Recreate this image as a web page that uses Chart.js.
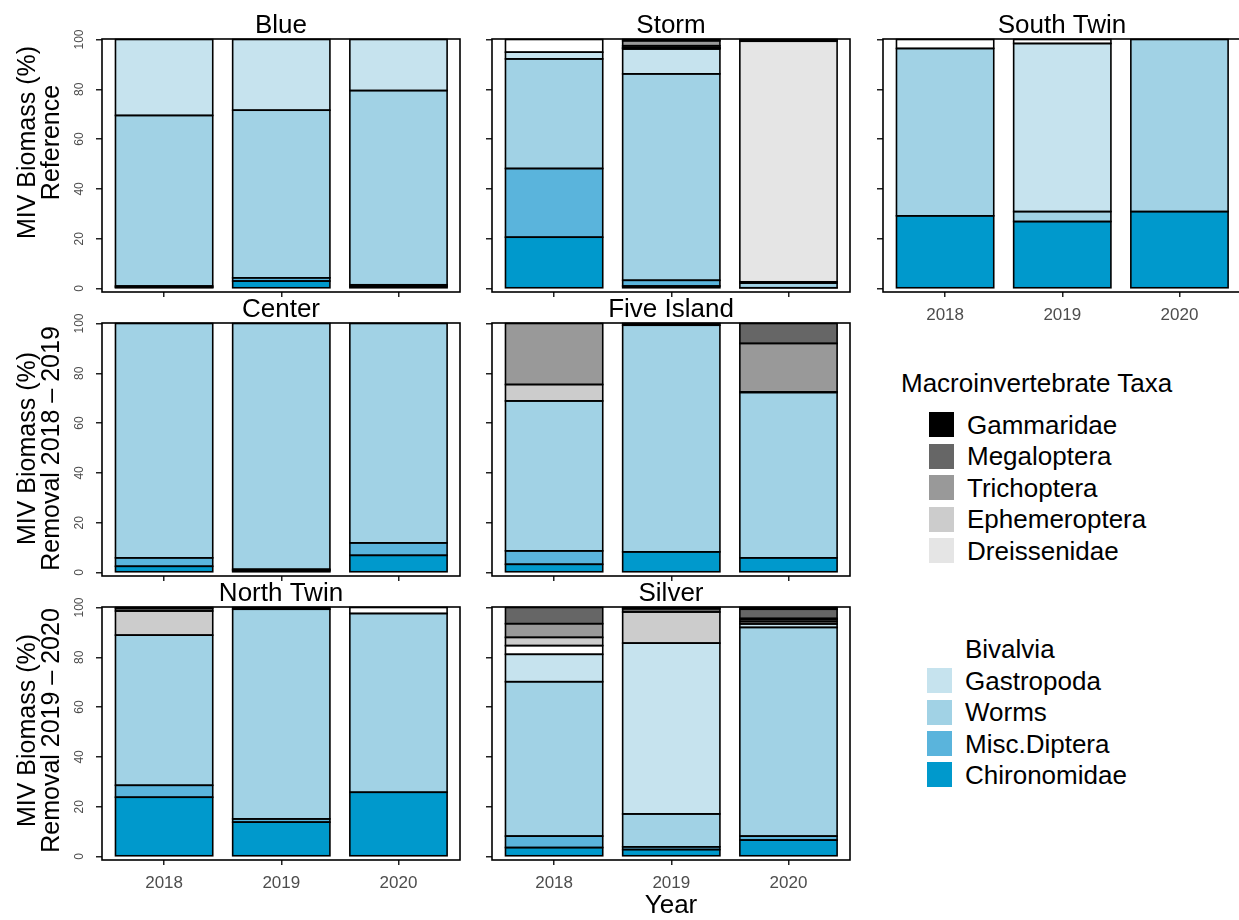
<!DOCTYPE html>
<html>
<head>
<meta charset="utf-8">
<script src="https://cdn.jsdelivr.net/npm/chart.js@4/dist/chart.umd.min.js"></script>
<style>
  html, body { margin: 0; padding: 0; background: #fff; width: 1239px; height: 920px; overflow: hidden; }
  canvas.panel { position: absolute; }
  .leg { position: absolute; font-family: "Liberation Sans", Arial, sans-serif; color: #000; white-space: nowrap; }
  .key { position: absolute; width: 25px; height: 25px; }
</style>
</head>
<body>
<div id="legend"></div>
<script>
// ---- categories and labels ----
const years = ['2018', '2019', '2020'];
const taxa = ['Gammaridae', 'Megaloptera', 'Trichoptera', 'Ephemeroptera', 'Dreissenidae',
              'Bivalvia', 'Gastropoda', 'Worms', 'Misc.Diptera', 'Chironomidae'];
const taxaColors = ['#000000', '#666666', '#999999', '#CCCCCC', '#E5E5E5',
                    '#FFFFFF', '#C6E3EE', '#A1D2E5', '#5AB4DC', '#0099CC'];
const yTicks = [0, 20, 40, 60, 80, 100];
const rowTitles = [
  ['MIV Biomass (%)', 'Reference'],
  ['MIV Biomass (%)', 'Removal 2018 \u2013 2019'],
  ['MIV Biomass (%)', 'Removal 2019 \u2013 2020']
];

// ---- biomass share (%) by taxon (order of `taxa`), each row = [2018, 2019, 2020] ----
const blue = [
  [0, 0, 0], [0, 0, 0], [0, 0, 0], [0, 0, 0], [0, 0, 0],
  [0, 0, 0], [30.5, 28.4, 20.5], [68.5, 67.3, 78.0], [0.5, 1.3, 0.6], [0.5, 3.0, 0.9]
];
const storm = [
  [0, 0.5, 0.4], [0, 0, 0.3], [0, 2.0, 0], [0, 0.7, 0], [0, 0.3, 96.6],
  [5.1, 0.3, 0], [2.7, 10.0, 0.5], [44.0, 82.9, 1.9], [27.6, 2.3, 0], [20.6, 1.0, 0.3]
];
const southTwin = [
  [0, 0, 0], [0, 0, 0], [0, 0, 0], [0, 0, 0], [0, 0, 0],
  [3.6, 1.6, 0], [0, 67.5, 0], [67.2, 4.0, 69.1], [0, 0, 0], [29.2, 26.9, 30.9]
];
const center = [
  [0, 0, 0], [0, 0, 0], [0, 0, 0], [0, 0, 0], [0, 0, 0],
  [0, 0, 0], [0, 0, 0], [94.1, 98.7, 88.1], [3.4, 0.5, 5.0], [2.5, 0.8, 6.9]
];
const fiveIsland = [
  [0, 0.7, 0], [0, 0, 8.0], [24.5, 0, 19.5], [6.6, 0, 0.2], [0, 0, 0],
  [0, 0, 0], [0, 0, 0], [60.2, 91.0, 66.4], [5.4, 0, 0], [3.3, 8.3, 5.9]
];
const northTwin = [
  [0, 0.7, 0], [0.4, 0, 0], [1.0, 0, 0], [9.7, 0, 0], [0, 0, 0],
  [0, 0, 2.4], [0, 0, 0], [60.3, 84.2, 71.8], [4.8, 1.3, 0], [23.8, 13.8, 25.8]
];
const silver = [
  [0, 0.5, 0.7], [6.5, 1.3, 3.7], [5.5, 0, 0.5], [3.3, 12.5, 0.8], [0, 0, 0],
  [3.5, 0, 0.9], [11.0, 68.6, 1.4], [62.0, 13.2, 83.8], [4.6, 1.1, 1.6], [3.6, 2.8, 6.6]
];

// facet grid: lake name, values, row, column
const lakes = [
  { name: 'Blue', values: blue, row: 0, col: 0 },
  { name: 'Storm', values: storm, row: 0, col: 1 },
  { name: 'South Twin', values: southTwin, row: 0, col: 2 },
  { name: 'Center', values: center, row: 1, col: 0 },
  { name: 'Five Island', values: fiveIsland, row: 1, col: 1 },
  { name: 'North Twin', values: northTwin, row: 2, col: 0 },
  { name: 'Silver', values: silver, row: 2, col: 1 }
];

// ---- layout ----
const FONT = '"Liberation Sans", Arial, sans-serif';
Chart.defaults.font.family = FONT;
const colLeft = [102, 492, 883];
const rowTop = [39, 323, 607];
const rowTitleShift = [-23, -1, -3];
const PANEL_W = 358, PANEL_H = 253, TOP_SPACE = 39, RIGHT_PAD = 2;

// outlines every stacked segment and the panel frame
const outlinePlugin = {
  id: 'outlines',
  afterDatasetsDraw(chart) {
    const ctx = chart.ctx;
    ctx.save();
    ctx.strokeStyle = '#000';
    ctx.lineWidth = 1.6;
    chart.data.datasets.forEach((ds, i) => {
      const meta = chart.getDatasetMeta(i);
      meta.data.forEach((bar, j) => {
        if (!ds.data[j].y) return;
        const p = bar.getProps(['x', 'y', 'base', 'width'], true);
        ctx.strokeRect(p.x - p.width / 2, Math.min(p.y, p.base), p.width, Math.abs(p.base - p.y));
      });
    });
    const a = chart.chartArea;
    ctx.strokeRect(a.left, a.top, a.right - a.left, a.bottom - a.top);
    ctx.restore();
  }
};

// vertical y tick labels and the two-line row title for the first column
const yLabelPlugin = {
  id: 'yLabels',
  afterDraw(chart, args, opts) {
    if (!opts.show) return;
    const ctx = chart.ctx, ys = chart.scales.y, a = chart.chartArea;
    ctx.save();
    ctx.textAlign = 'center';
    ctx.textBaseline = 'middle';
    ctx.fillStyle = '#4d4d4d';
    ctx.font = '12px ' + FONT;
    yTicks.forEach(v => {
      ctx.save();
      ctx.translate(a.left - 22, ys.getPixelForValue(v));
      ctx.rotate(-Math.PI / 2);
      ctx.fillText(String(v), 0, 0);
      ctx.restore();
    });
    ctx.fillStyle = '#000';
    ctx.font = '25px ' + FONT;
    const cy = (a.top + a.bottom) / 2 + opts.shift;
    opts.lines.forEach((line, k) => {
      ctx.save();
      ctx.translate(28 + k * 24.5, cy);
      ctx.rotate(-Math.PI / 2);
      ctx.fillText(line, 0, 0);
      ctx.restore();
    });
    ctx.restore();
  }
};

lakes.forEach(lake => {
  const firstCol = lake.col === 0;
  const showX = (lake.row === 2) || (lake.col === 2);
  const isYear = lake.name === 'Silver';
  const leftSpace = firstCol ? colLeft[0] : 12;
  const bottomSpace = isYear ? (920 - rowTop[lake.row] - PANEL_H) : (showX ? 40 : 8);

  const canvas = document.createElement('canvas');
  canvas.className = 'panel';
  const w = leftSpace + PANEL_W + RIGHT_PAD;
  const h = TOP_SPACE + PANEL_H + bottomSpace;
  canvas.width = w; canvas.height = h;
  canvas.style.width = w + 'px'; canvas.style.height = h + 'px';
  canvas.style.left = (colLeft[lake.col] - leftSpace) + 'px';
  canvas.style.top = (rowTop[lake.row] - TOP_SPACE) + 'px';
  document.body.appendChild(canvas);

  // bottom of the stack first: Chironomidae ... Gammaridae on top
  const datasets = taxa.map((t, k) => ({
    label: t,
    data: lake.values[k].map((v, j) => ({ x: j + 1, y: v })),
    backgroundColor: taxaColors[k],
    borderWidth: 0,
    barPercentage: 0.83,
    categoryPercentage: 1.0
  })).reverse();

  new Chart(canvas, {
    type: 'bar',
    data: { datasets },
    plugins: [outlinePlugin, yLabelPlugin],
    options: {
      responsive: false,
      animation: false,
      devicePixelRatio: 1,
      layout: { padding: { left: 0, right: RIGHT_PAD, top: 0, bottom: 0 } },
      plugins: {
        legend: { display: false },
        tooltip: { enabled: false },
        yLabels: { show: firstCol, lines: rowTitles[lake.row], shift: rowTitleShift[lake.row] },
        title: {
          display: true,
          text: lake.name,
          fullSize: false,
          color: '#000',
          font: { size: 26, lineHeight: 1.0, weight: 'normal' },
          padding: { top: 13, bottom: 0 }
        }
      },
      scales: {
        x: {
          type: 'linear',
          stacked: true,
          min: 0.47,
          max: 3.525,
          offset: false,
          border: { display: false },
          grid: { offset: false, drawOnChartArea: false, drawTicks: true, tickLength: 5, color: '#222', lineWidth: 1.5 },
          ticks: {
            display: showX, stepSize: 1, includeBounds: false, autoSkip: false, maxRotation: 0,
            color: '#4d4d4d', font: { size: 17 }, padding: 8,
            callback: v => years[v - 1] || ''
          },
          title: {
            display: isYear,
            text: 'Year',
            color: '#000',
            font: { size: 26, lineHeight: 1.1 },
            padding: { top: 0, bottom: 0 }
          },
          afterFit(scale) { scale.height = bottomSpace; }
        },
        y: {
          type: 'linear',
          stacked: true,
          min: -1.4,
          max: 100.2,
          border: { display: false },
          grid: { drawOnChartArea: false, drawTicks: true, tickLength: 6, color: '#222', lineWidth: 1.5 },
          ticks: { display: false, stepSize: 20, includeBounds: false },
          afterFit(scale) { scale.width = leftSpace; }
        }
      }
    }
  });
});

// ---- legend ----
const legend = document.getElementById('legend');
function addText(txt, left, cy, size) {
  const d = document.createElement('div');
  d.className = 'leg';
  d.textContent = txt;
  d.style.left = left + 'px';
  d.style.top = (cy - size / 2) + 'px';
  d.style.fontSize = size + 'px';
  d.style.lineHeight = size + 'px';
  legend.appendChild(d);
}
addText('Macroinvertebrate Taxa', 901, 383, 26);
taxa.forEach((t, k) => {
  const second = k >= 5;
  const cy = second ? 649.3 + (k - 5) * 31.4 : 424.8 + k * 31.5;
  const keyLeft = second ? 927 : 929;
  const key = document.createElement('div');
  key.className = 'key';
  key.style.left = keyLeft + 'px';
  key.style.top = (cy - 12.5) + 'px';
  key.style.background = taxaColors[k];
  legend.appendChild(key);
  addText(t, keyLeft + 38, cy, 26);
});
</script>
</body>
</html>
